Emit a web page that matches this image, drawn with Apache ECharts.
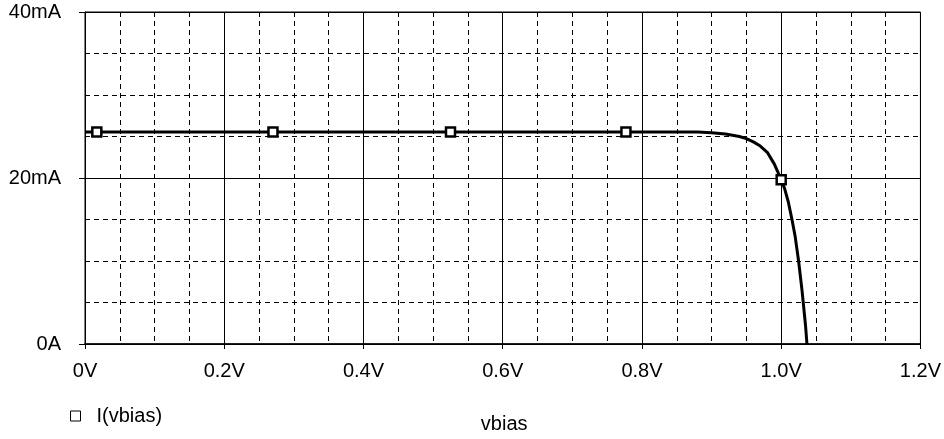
<!DOCTYPE html>
<html>
<head>
<meta charset="utf-8">
<script src="https://cdn.jsdelivr.net/npm/echarts@6/dist/echarts.min.js"></script>
<style>
  html, body { margin: 0; padding: 0; background: #fff; }
  #chart { width: 944px; height: 439px; }
</style>
</head>
<body>
<div id="chart"></div>
<script>
// I-V sweep of the cell: current I(vbias) in mA against bias voltage in V
const curveV = [0, 0.1, 0.2, 0.3, 0.4, 0.5, 0.6, 0.7, 0.8, 0.85, 0.88, 0.9, 0.92, 0.94, 0.95, 0.96, 0.97, 0.98, 0.99, 1.0, 1.005, 1.01, 1.015, 1.02, 1.025, 1.03, 1.035, 1.037];
const curveI = [25.55, 25.55, 25.55, 25.55, 25.55, 25.55, 25.55, 25.55, 25.55, 25.55, 25.53, 25.45, 25.3, 25.0, 24.75, 24.35, 23.85, 23.1, 21.7, 19.8, 18.7, 17.2, 15.2, 13.0, 10.0, 6.4, 2.2, 0];

// trace marker positions
const markerV = [0.017, 0.270, 0.525, 0.777, 1.0];
const markerI = [25.55, 25.55, 25.55, 25.55, 19.8];

const seriesName = 'I(vbias)';
const xAxisName = 'vbias';

const FONT = "'Liberation Sans', Arial, sans-serif";
const FS = 20;

const chart = echarts.init(document.getElementById('chart'), null, { renderer: 'canvas' });

chart.setOption({
  backgroundColor: '#fff',
  animation: false,
  textStyle: { fontFamily: FONT, color: '#000' },
  grid: { left: 85, right: 20, top: 12, bottom: 92, show: true, borderColor: '#000', borderWidth: 1 },
  legend: {
    left: 65, top: 401,
    icon: 'rect', itemWidth: 10, itemHeight: 10,
    data: [seriesName],
    itemStyle: { color: '#fff', borderColor: '#000', borderWidth: 1 },
    textStyle: { fontFamily: FONT, fontSize: FS, color: '#000', padding: [0, 0, 0, 11] }
  },
  xAxis: {
    type: 'value', min: 0, max: 1.2, interval: 0.2,
    name: xAxisName, nameLocation: 'middle', nameGap: 70,
    nameTextStyle: { fontFamily: FONT, fontSize: FS, color: '#000', padding: [0, 0, 0, 3] },
    axisLine: { show: true, lineStyle: { color: '#000', width: 1.5 } },
    axisTick: { show: true, length: 5, lineStyle: { color: '#000' } },
    axisLabel: {
      fontFamily: FONT, fontSize: FS, color: '#000', margin: 17,
      formatter: v => v === 0 ? '0V' : v.toFixed(1) + 'V'
    },
    splitLine: { show: true, lineStyle: { color: '#000', width: 1 } },
    minorTick: { show: false, splitNumber: 4 },
    minorSplitLine: { show: true, lineStyle: { color: '#000', width: 1, type: [5, 4] } }
  },
  yAxis: {
    type: 'value', min: 0, max: 40, interval: 20,
    axisLine: { show: true, lineStyle: { color: '#000', width: 1 } },
    axisTick: { show: true, length: 6, lineStyle: { color: '#000' } },
    axisLabel: {
      fontFamily: FONT, fontSize: FS, color: '#000', margin: 24,
      formatter: v => v === 0 ? '0A' : v + 'mA'
    },
    splitLine: { show: true, lineStyle: { color: '#000', width: 1 } },
    minorTick: { show: false, splitNumber: 4 },
    minorSplitLine: { show: true, lineStyle: { color: '#000', width: 1, type: [5, 4] } }
  },
  series: [
    {
      name: seriesName,
      type: 'line',
      data: curveV.map((v, i) => [v, curveI[i]]),
      showSymbol: false,
      smooth: false,
      lineStyle: { color: '#000', width: 3 },
      itemStyle: { color: '#000' },
      z: 3
    },
    {
      name: seriesName,
      type: 'scatter',
      data: markerV.map((v, i) => [v, markerI[i]]),
      symbol: 'rect',
      symbolSize: 9,
      itemStyle: { color: '#fff', borderColor: '#000', borderWidth: 2.5, opacity: 1 },
      z: 4
    }
  ]
});
</script>
</body>
</html>
